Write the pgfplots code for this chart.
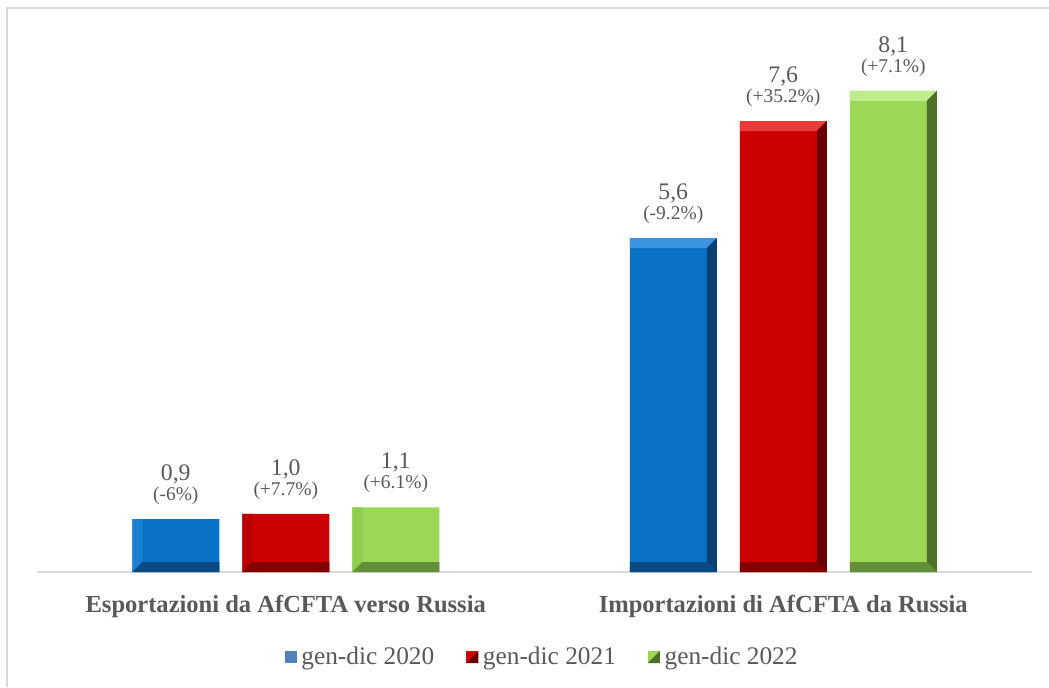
\documentclass[border=0pt]{standalone}
\usepackage{fontspec}
\setmainfont{Liberation Serif}
\usepackage{pgfplots}
\pgfplotsset{compat=1.18}
\usetikzlibrary{calc}
\definecolor{txt}{HTML}{595959}
\definecolor{frame}{HTML}{D9D9D9}
\definecolor{axisgray}{HTML}{D9D9D9}
% blue
\definecolor{bface}{HTML}{0872C4}
\definecolor{btop}{HTML}{3A94E2}
\definecolor{bleft}{HTML}{1C80D2}
\definecolor{bright}{HTML}{0B3F73}
\definecolor{bbot}{HTML}{0A4A84}
\definecolor{bleg}{HTML}{4F81BD}
% red
\definecolor{rface}{HTML}{CC0000}
\definecolor{rtop}{HTML}{EA3A3A}
\definecolor{rleft}{HTML}{BA0000}
\definecolor{rright}{HTML}{680000}
\definecolor{rbot}{HTML}{820000}
% green
\definecolor{gface}{HTML}{9BD856}
\definecolor{gtop}{HTML}{BFEC8C}
\definecolor{gleft}{HTML}{90CC4E}
\definecolor{gright}{HTML}{4E7029}
\definecolor{gbot}{HTML}{638F39}
\newif\ifinbevel
\tikzset{
  bevel/.style n args={5}{fill=#1, draw=none, path picture={%
    \ifinbevel\else
    \inbeveltrue
    \coordinate (SW) at (path picture bounding box.south west);
    \coordinate (NE) at (path picture bounding box.north east);
    \coordinate (NW) at (SW|-NE);
    \coordinate (SE) at (NE|-SW);
    \fill[#2] (NW) -- (NE) -- ($(NE)+(-7.5pt,-7.5pt)$) -- ($(NW)+(7.5pt,-7.5pt)$) -- cycle;
    \fill[#3] (NW) -- ($(NW)+(7.5pt,-7.5pt)$) -- ($(SW)+(7.5pt,7.5pt)$) -- (SW) -- cycle;
    \fill[#4] (NE) -- (SE) -- ($(SE)+(-7.5pt,7.5pt)$) -- ($(NE)+(-7.5pt,-7.5pt)$) -- cycle;
    \fill[#5] (SW) -- ($(SW)+(7.5pt,7.5pt)$) -- ($(SE)+(-7.5pt,7.5pt)$) -- (SE) -- cycle;
    \fi
  }},
}
\newcommand\vf{\fontsize{17.8}{20}\selectfont}
\begin{document}
\begin{tikzpicture}
\path[use as bounding box] (0pt,0pt) rectangle (786.75pt,515.25pt);
\draw[draw=frame, line width=1.1pt] (5.25pt,0pt) -- (5.25pt,509.25pt) -- (786.75pt,509.25pt);
\begin{axis}[
  at={(27.75pt,86.25pt)}, anchor=south west,
  width=746.25pt, height=400.95pt, scale only axis,
  xmin=-0.5, xmax=1.5, ymin=0, ymax=9,
  ybar, bar width=65.25pt,
  axis x line=bottom, axis y line=none,
  x axis line style={-, draw=axisgray, line width=1pt},
  xtick={0,1},
  xticklabels={Esportazioni da AfCFTA verso Russia, Importazioni di AfCFTA da Russia},
  xtick style={draw=none},
  xticklabel style={font=\fontsize{18.4}{20}\selectfont\bfseries, text=txt, anchor=base, inner sep=0pt, yshift=-28.5pt},
  ytick=\empty,
  legend columns=3,
  legend style={at={(0.508,-0.159)}, anchor=center, draw=none, fill=none, font=\fontsize{19}{21}\selectfont, text=txt,
    /tikz/every even column/.append style={column sep=22pt},
    /tikz/every odd column/.append style={column sep=1.5pt}},
  clip=false,
  lbl/.style={forget plot, draw=none, fill=none, point meta=explicit symbolic, nodes near coords,
    every node near coord/.append style={font=\fontsize{14.6}{15}\selectfont, text=txt, align=center, anchor=south, inner sep=0pt, yshift=10.5pt}},
]
\addplot[bar shift=-82.5pt, bevel={bface}{btop}{bleft}{bright}{bbot},
  legend image code/.code={\inbeveltrue\fill[bleg] (0pt,-4.5pt) rectangle (9pt,4.5pt);}]
  coordinates {(0,0.89) (1,5.62)};
\addlegendentry{gen-dic 2020}
\addplot[bar shift=0pt, bevel={rface}{rtop}{rleft}{rright}{rbot},
  legend image code/.code={\inbeveltrue\fill[rface] (0pt,-4.5pt) rectangle (9pt,4.5pt);
    \fill[rright] (9pt,4.5pt) -- (9pt,-4.5pt) -- (0pt,-4.5pt) -- cycle;}]
  coordinates {(0,0.98) (1,7.59)};
\addlegendentry{gen-dic 2021}
\addplot[bar shift=82.5pt, bevel={gface}{gtop}{gleft}{gright}{gbot},
  legend image code/.code={\inbeveltrue\fill[gface] (0pt,-4.5pt) rectangle (9pt,4.5pt);
    \fill[gright] (9pt,4.5pt) -- (9pt,-4.5pt) -- (0pt,-4.5pt) -- cycle;}]
  coordinates {(0,1.09) (1,8.10)};
\addlegendentry{gen-dic 2022}
\addplot[bar shift=-82.5pt, lbl] coordinates {
  (0,0.89) [{\vf 0,9}\\(-6\%)]
  (1,5.62) [{\vf 5,6}\\(-9.2\%)]
};
\addplot[bar shift=0pt, lbl] coordinates {
  (0,0.98) [{\vf 1,0}\\(+7.7\%)]
  (1,7.59) [{\vf 7,6}\\(+35.2\%)]
};
\addplot[bar shift=82.5pt, lbl] coordinates {
  (0,1.09) [{\vf 1,1}\\(+6.1\%)]
  (1,8.10) [{\vf 8,1}\\(+7.1\%)]
};
\end{axis}
\end{tikzpicture}
\end{document}
